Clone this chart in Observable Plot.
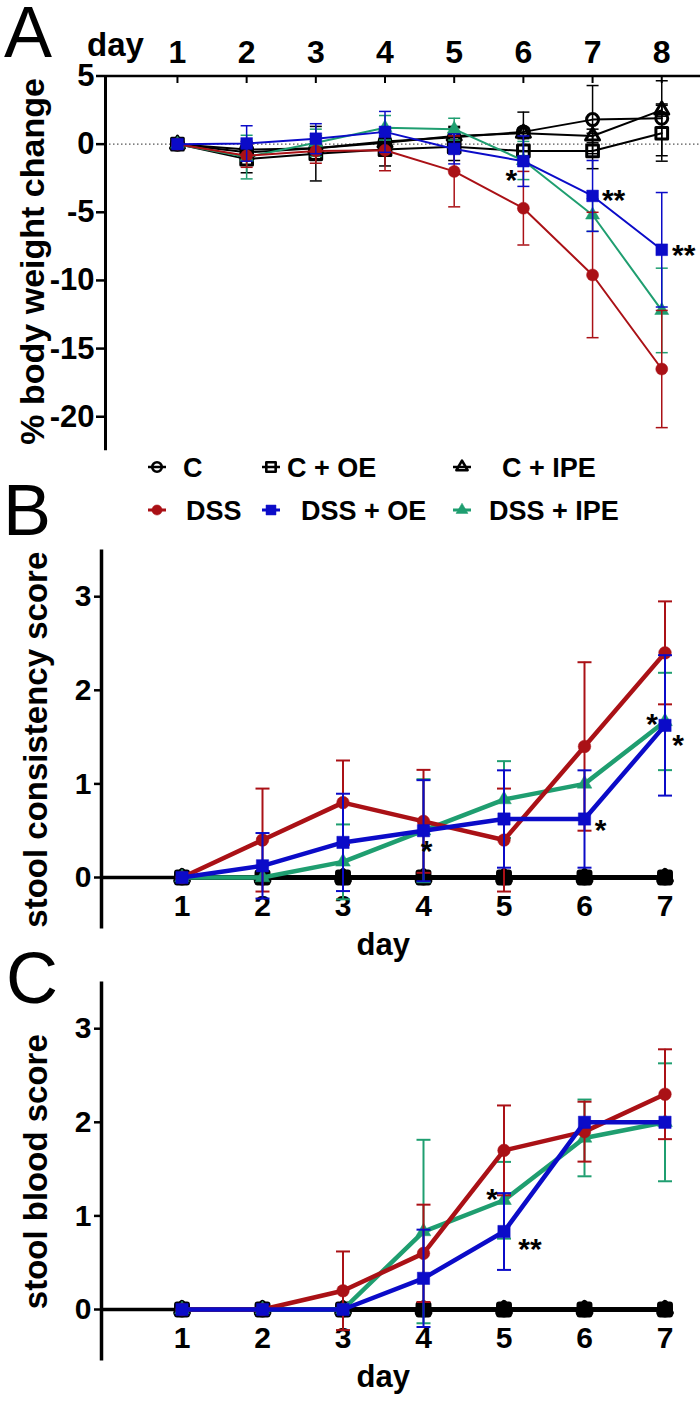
<!DOCTYPE html>
<html>
<head>
<meta charset="utf-8">
<script src="https://cdn.jsdelivr.net/npm/d3@7"></script>
<script src="https://cdn.jsdelivr.net/npm/@observablehq/plot@0.6"></script>
<style>
  html, body { margin: 0; padding: 0; background: #fff; }
  #root { position: relative; width: 700px; height: 1402px; background: #fff; overflow: hidden; }
  #root > svg, #root > figure { position: absolute; left: 0; margin: 0; }
</style>
</head>
<body>
<div id="root"></div>
<script>
// ---------------- DATA ----------------
const groups = ["C", "C + OE", "C + IPE", "DSS", "DSS + OE", "DSS + IPE"];

// Panel A: % body weight change, days 1-8
const daysA = [1, 2, 3, 4, 5, 6, 7, 8];
const weightC        = [0, -0.4, -0.3, 0.2, 0.5, 0.9, 1.8, 1.9];
const weightC_sd     = [0, 0.6, 0.9, 0.9, 0.8, 1.45, 2.5, 2.75];
const weightCOE      = [0, -1.1, -0.7, -0.4, -0.2, -0.5, -0.5, 0.8];
const weightCOE_sd   = [0, 1.0, 2.0, 1.2, 1.0, 1.0, 1.3, 2.05];
const weightCIPE     = [0, -0.6, -0.3, 0.1, 0.6, 0.8, 0.6, 2.5];
const weightCIPE_sd  = [0, 0.5, 0.5, 0.5, 0.6, 0.4, 0.5, 0.45];
const weightDSS      = [0, -0.85, -0.5, -0.45, -2.0, -4.7, -9.6, -16.5];
const weightDSS_sd   = [0, 0.85, 0.9, 1.5, 2.6, 2.7, 4.6, 4.3];
const weightDOE      = [0, 0.05, 0.4, 0.9, -0.35, -1.25, -3.8, -7.75];
const weightDOE_sd   = [0, 1.3, 1.1, 1.5, 1.1, 1.85, 2.6, 4.2];
const weightDIPE     = [0, -0.95, 0.1, 1.2, 1.1, -1.2, -5.2, -12.2];
const weightDIPE_sd  = [0, 1.6, 1.0, 0.9, 0.8, 1.4, 1.2, 3.1];

// Panel B: stool consistency score, days 1-7
const daysBC = [1, 2, 3, 4, 5, 6, 7];
const consC          = [0, 0, 0, 0, 0, 0, 0];
const consCOE        = [0, 0, 0, 0, 0, 0, 0];
const consCIPE       = [0, 0, 0, 0, 0, 0, 0];
const consDSS        = [0, 0.4, 0.8, 0.6, 0.4, 1.4, 2.4];
const consDSS_sd     = [0, 0.55, 0.45, 0.55, 0.55, 0.9, 0.55];
const consDOE        = [0, 0.125, 0.375, 0.5, 0.625, 0.625, 1.625];
const consDOE_sd     = [0, 0.35, 0.52, 0.54, 0.52, 0.52, 0.75];
const consDIPE       = [0, 0, 0.167, 0.5, 0.833, 1.0, 1.667];
const consDIPE_sd    = [0, 0, 0.4, 0.55, 0.41, 0, 0.52];

// Panel C: stool blood score, days 1-7
const bloodC         = [0, 0, 0, 0, 0, 0, 0];
const bloodCOE       = [0, 0, 0, 0, 0, 0, 0];
const bloodCIPE      = [0, 0, 0, 0, 0, 0, 0];
const bloodDSS       = [0, 0, 0.2, 0.6, 1.7, 1.9, 2.3];
const bloodDSS_sd    = [0, 0, 0.42, 0.52, 0.48, 0.32, 0.48];
const bloodDOE       = [0, 0, 0, 0.333, 0.833, 2.0, 2.0];
const bloodDOE_sd    = [0, 0, 0, 0.52, 0.41, 0, 0];
const bloodDIPE      = [0, 0, 0, 0.833, 1.167, 1.833, 2.0];
const bloodDIPE_sd   = [0, 0, 0, 0.98, 0.41, 0.41, 0.63];

// Tick labels
const ticksA = [5, 0, -5, -10, -15, -20];
const ticksBC = [0, 1, 2, 3];

// Significance marks (anchored on a series point)
const starsA = [
  {series: "DSS + OE", day: 6, text: "*"},
  {series: "DSS + OE", day: 7, text: "**"},
  {series: "DSS + OE", day: 8, text: "**"}
];
const starsB = [
  {series: "DSS + OE", day: 4, text: "*"},
  {series: "DSS + OE", day: 6, text: "*"},
  {series: "DSS + OE", day: 7, text: "*"},
  {series: "DSS + OE", day: 7, text: "*"}
];
const starsC = [
  {series: "DSS + IPE", day: 5, text: "*"},
  {series: "DSS + OE", day: 5, text: "**"}
];

// ---------------- STYLE / LAYOUT ----------------
const FONT = '"Liberation Sans", Arial, Helvetica, sans-serif';
const styleOf = {
  "C":         {color: "#000000", symbol: "circle",   open: true},
  "C + OE":    {color: "#000000", symbol: "square",   open: true},
  "C + IPE":   {color: "#000000", symbol: "triangle", open: true},
  "DSS":       {color: "#aa1116", symbol: "circle",   open: false},
  "DSS + OE":  {color: "#0b0bc8", symbol: "square",   open: false},
  "DSS + IPE": {color: "#1f9e70", symbol: "triangle", open: false}
};
const radiusOf = {circle: 6, square: 6.6, triangle: 5.2};
const smallRadiusOf = {circle: 5.0, square: 5.6, triangle: 4.3};
const drawOrder = ["C", "C + OE", "C + IPE", "DSS + IPE", "DSS", "DSS + OE"];

const starOffA = [[-12, 12], [21, -3], [22, -2]];
const starOffB = [[3, 13], [16, 4], [-13, -8], [13, 13]];
const starOffC = [[-12, -8], [26, 11]];

const capSymbol = {
  draw(context, size) {
    const w = Math.sqrt(size / Math.PI);
    context.moveTo(-w, 0);
    context.lineTo(w, 0);
  }
};

function tidy(days, vals, sds) {
  return days.map((d, i) => ({day: d, value: vals[i], sd: sds ? sds[i] : 0}));
}

const dataA = {
  "C": tidy(daysA, weightC, weightC_sd),
  "C + OE": tidy(daysA, weightCOE, weightCOE_sd),
  "C + IPE": tidy(daysA, weightCIPE, weightCIPE_sd),
  "DSS": tidy(daysA, weightDSS, weightDSS_sd),
  "DSS + OE": tidy(daysA, weightDOE, weightDOE_sd),
  "DSS + IPE": tidy(daysA, weightDIPE, weightDIPE_sd)
};
const dataB = {
  "C": tidy(daysBC, consC),
  "C + OE": tidy(daysBC, consCOE),
  "C + IPE": tidy(daysBC, consCIPE),
  "DSS": tidy(daysBC, consDSS, consDSS_sd),
  "DSS + OE": tidy(daysBC, consDOE, consDOE_sd),
  "DSS + IPE": tidy(daysBC, consDIPE, consDIPE_sd)
};
const dataC = {
  "C": tidy(daysBC, bloodC),
  "C + OE": tidy(daysBC, bloodCOE),
  "C + IPE": tidy(daysBC, bloodCIPE),
  "DSS": tidy(daysBC, bloodDSS, bloodDSS_sd),
  "DSS + OE": tidy(daysBC, bloodDOE, bloodDOE_sd),
  "DSS + IPE": tidy(daysBC, bloodDIPE, bloodDIPE_sd)
};

function seriesMarks(data, opt) {
  const marks = [];
  for (const g of drawOrder) {
    const st = styleOf[g];
    const rows = data[g];
    const withErr = rows.filter(r => r.sd > 0);
    const caps = withErr.flatMap(r => [{day: r.day, y: r.value + r.sd}, {day: r.day, y: r.value - r.sd}]);
    marks.push(Plot.ruleX(withErr, {x: "day", y1: r => r.value - r.sd, y2: r => r.value + r.sd,
      stroke: st.color, strokeWidth: opt.errWidth}));
    marks.push(Plot.dot(caps, {x: "day", y: "y", symbol: capSymbol, r: opt.capR,
      stroke: st.color, fill: "none", strokeWidth: opt.errWidth}));
    marks.push(Plot.line(rows, {x: "day", y: "value", stroke: st.color, strokeWidth: opt.lineWidth}));
    if (st.open) {
      marks.push(Plot.dot(rows, {x: "day", y: "value", symbol: st.symbol,
        r: (opt.thickOpen ? smallRadiusOf : radiusOf)[st.symbol],
        fill: "none", stroke: st.color, strokeWidth: opt.openStroke, strokeLinejoin: "round"}));
    } else {
      marks.push(Plot.dot(rows, {x: "day", y: "value", symbol: st.symbol, r: radiusOf[st.symbol] * opt.symScale,
        fill: st.color, stroke: st.color, strokeWidth: 0.5}));
    }
  }
  return marks;
}

function starMarks(stars, offs, data) {
  return stars.map((s, i) => {
    const row = data[s.series].find(r => r.day === s.day);
    return Plot.text([s], {x: () => s.day, y: () => row.value, text: "text",
      dx: offs[i][0], dy: offs[i][1] - 4.5, fontSize: 30, fontWeight: "bold",
      textAnchor: "middle", lineAnchor: "top", fill: "black"});
  });
}

const root = d3.select("#root");

// ---------------- PANEL A ----------------
const plotA = Plot.plot({
  width: 700, height: 460,
  marginLeft: 105, marginRight: 0, marginTop: 75.5, marginBottom: 9.7,
  x: {domain: [-0.04, 8.56]},
  y: {domain: [-22.5, 5]},
  style: {fontFamily: FONT, background: "transparent", overflow: "visible", color: "black"},
  marks: [
    Plot.ruleY([0], {stroke: "#555", strokeDasharray: "1.5,2.5", strokeWidth: 1.2}),
    Plot.ruleY([5], {stroke: "black", strokeWidth: 2.5}),
    Plot.ruleX(daysA, {x: d => d, y1: 5, y2: 4.45, stroke: "black", strokeWidth: 2}),
    Plot.ruleX([-0.04], {stroke: "black", strokeWidth: 3}),
    Plot.axisX({anchor: "top", ticks: daysA, tickSize: 0, tickPadding: 13, fontSize: 32,
      fontWeight: "bold", label: null, tickFormat: d => String(d)}),
    Plot.axisY({ticks: ticksA, tickSize: 9, tickPadding: 2, fontSize: 31, fontWeight: "bold",
      strokeWidth: 2.5, label: null, tickFormat: d => String(d)}),
    Plot.text(["day"], {frameAnchor: "top-left", dx: 10, dy: -20, fontSize: 33, fontWeight: "bold",
      textAnchor: "middle", lineAnchor: "bottom"}),
    Plot.text(["% body weight change"], {frameAnchor: "left", rotate: -90, dx: -62, dy: -2,
      fontSize: 34, fontWeight: "bold", textAnchor: "middle", lineAnchor: "bottom"}),
    ...seriesMarks(dataA, {errWidth: 1.5, capR: 6, lineWidth: 2, symScale: 1, openStroke: 3, thickOpen: false}),
    ...starMarks(starsA, starOffA, dataA)
  ]
});
d3.select(plotA).style("top", "0px");
root.node().appendChild(plotA);

// ---------------- PANELS B & C ----------------
function scorePlot(data, label, labelDy, stars, offs) {
  return Plot.plot({
    width: 700, height: 430,
    marginLeft: 101, marginRight: 35.5, marginTop: 9.4, marginBottom: 93,
    x: {domain: [0, 7]},
    y: {domain: [0, 3.5]},
    style: {fontFamily: FONT, background: "transparent", overflow: "visible", color: "black"},
    marks: [
      Plot.ruleX([0], {y1: -0.55, y2: 3.5, stroke: "black", strokeWidth: 3.5}),
      Plot.axisY({ticks: ticksBC, tickSize: 7, tickPadding: 3, fontSize: 30, fontWeight: "bold",
        strokeWidth: 2.5, label: null, tickFormat: d => String(d)}),
      Plot.axisX({ticks: daysBC, tickSize: 0, tickPadding: 17, fontSize: 30, fontWeight: "bold",
        label: null, tickFormat: d => String(d)}),
      Plot.text(["day"], {frameAnchor: "bottom", dy: 77, fontSize: 31, fontWeight: "bold",
        textAnchor: "middle", lineAnchor: "bottom"}),
      Plot.text([label], {frameAnchor: "left", rotate: -90, dx: -55, dy: labelDy,
        fontSize: 33, fontWeight: "bold", textAnchor: "middle", lineAnchor: "bottom"}),
      Plot.ruleY([0], {x1: 0, x2: 7.1, stroke: "black", strokeWidth: 3.5}),
      ...seriesMarks(data, {errWidth: 2, capR: 7, lineWidth: 4.5, symScale: 1.05, openStroke: 6, thickOpen: true}),
      ...starMarks(stars, offs, data)
    ]
  });
}

const plotB = scorePlot(dataB, "stool consistency score", 26, starsB, starOffB);
d3.select(plotB).style("top", "540px");
root.node().appendChild(plotB);

const plotC = scorePlot(dataC, "stool blood score", 26, starsC, starOffC);
d3.select(plotC).style("top", "972px");
root.node().appendChild(plotC);

// ---------------- OVERLAY: panel letters + legend ----------------
const ov = root.append("svg")
  .attr("width", 700).attr("height", 1402)
  .style("position", "absolute").style("left", "0px").style("top", "0px")
  .style("pointer-events", "none")
  .style("font-family", FONT);

const letters = [["A", 4, 57], ["B", 3, 535], ["C", 6, 1003]];
ov.selectAll("text.letter").data(letters).join("text")
  .attr("class", "letter")
  .attr("x", d => d[1]).attr("y", d => d[2])
  .attr("font-size", 72).attr("fill", "black")
  .text(d => d[0]);

// legend layout: [symbol center x, text x, row y]
const legendPos = {
  "C": [157, 183, 467], "C + OE": [271, 287, 467], "C + IPE": [462, 502, 467],
  "DSS": [157, 186, 510], "DSS + OE": [271, 301, 510], "DSS + IPE": [462, 489, 510]
};
const symMap = {circle: d3.symbolCircle, square: d3.symbolSquare, triangle: d3.symbolTriangle};
for (const g of groups) {
  const st = styleOf[g];
  const [sx, tx, y] = legendPos[g];
  const gg = ov.append("g");
  gg.append("line").attr("x1", sx - 9).attr("x2", sx + 9).attr("y1", y).attr("y2", y)
    .attr("stroke", st.color).attr("stroke-width", st.open ? 2.5 : 3);
  const r = radiusOf[st.symbol] * (st.open ? 0.8 : 0.85);
  gg.append("path")
    .attr("d", d3.symbol(symMap[st.symbol], r * r * Math.PI)())
    .attr("transform", `translate(${sx},${y})`)
    .attr("fill", st.open ? "none" : st.color)
    .attr("stroke", st.color).attr("stroke-width", st.open ? 2.6 : 0.5)
    .attr("stroke-linejoin", "round");
  gg.append("text").attr("x", tx).attr("y", y + 9.7)
    .attr("font-size", 27).attr("font-weight", "bold").attr("fill", "black")
    .text(g);
}
</script>
</body>
</html>
